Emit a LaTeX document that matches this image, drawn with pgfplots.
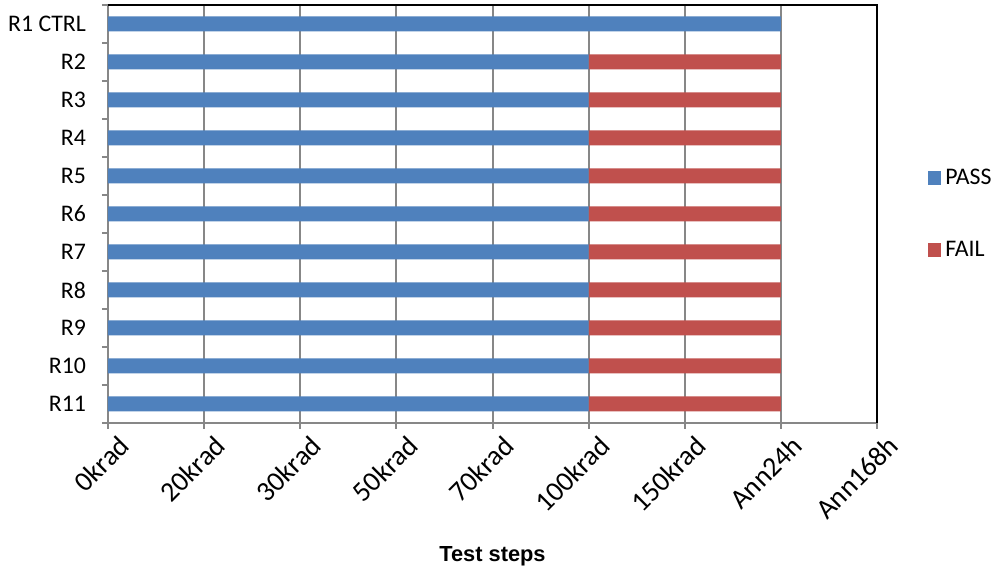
\documentclass[border=0pt]{standalone}
\usepackage{pgfplots}
\pgfplotsset{compat=1.18}
\usepackage{fontspec}
\setmainfont{Carlito}
\newfontfamily\arialfont{Liberation Sans}
\definecolor{passc}{HTML}{4F81BD}
\definecolor{failc}{HTML}{C0504D}
\definecolor{gridc}{HTML}{878787}
\begin{document}
\begin{tikzpicture}
\begin{axis}[
  at={(0,0)}, anchor=south west,
  scale only axis,
  width=384.5pt, height=209pt,
  xbar stacked,
  bar width=7.5pt,
  xmin=0, xmax=8,
  ymin=-0.5, ymax=10.5,
  xtick={0,...,8},
  xticklabels={0krad,20krad,30krad,50krad,70krad,100krad,150krad,Ann24h,Ann168h},
  ytick={-0.5,0.5,...,10.5},
  yticklabels={},
  extra y ticks={0,...,10},
  extra y tick labels={R11,R10,R9,R8,R7,R6,R5,R4,R3,R2,R1 CTRL},
  extra y tick style={major tick length=0pt, yticklabel style={xshift=-7.5pt}},
  tick align=outside,
  major tick length=3pt,
  tick style={draw=gridc, line width=1pt},
  xmajorgrids,
  major grid style={draw=gridc, line width=1pt},
  axis line style={draw=gridc, line width=1pt},
  axis x line*=bottom, axis y line*=left,
  yticklabel style={font=\fontsize{11.9}{14}\selectfont},
  xticklabel style={font=\fontsize{14}{16}\selectfont, rotate=45, anchor=east, xshift=5pt, yshift=-10pt},
  xlabel={\arialfont\bfseries Test steps},
  xlabel style={at={(axis description cs:0.5,-0.32)}, anchor=center, font=\fontsize{10.9}{13}\selectfont},
  legend style={at={(1.11,0.5)}, anchor=center, draw=none, fill=none,
    font=\fontsize{11.9}{14}\selectfont, row sep=23pt,
    legend cell align=left},
  legend image code/.code={\fill[#1] (0pt,-3.4pt) rectangle (6.8pt,3.4pt);},
  clip=false,
]
\addplot[fill=passc, draw=none] coordinates {
 (5,0) (5,1) (5,2) (5,3) (5,4) (5,5) (5,6) (5,7) (5,8) (5,9) (7,10)};
\addplot[fill=failc, draw=none] coordinates {
 (2,0) (2,1) (2,2) (2,3) (2,4) (2,5) (2,6) (2,7) (2,8) (2,9) (0,10)};
\legend{PASS,FAIL}
\draw[black, line width=1pt] (rel axis cs:0,1) -- (rel axis cs:1,1) -- (rel axis cs:1,0);
\end{axis}
\pgfresetboundingbox
\path (-54pt,-74pt) rectangle (446pt,211.5pt);
\end{tikzpicture}
\end{document}
